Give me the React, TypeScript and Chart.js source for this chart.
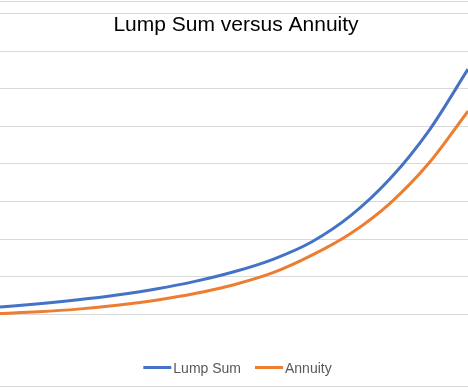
import React, { useEffect, useRef } from "react";
import { Chart, registerables } from "chart.js";

Chart.register(...registerables);

const chartTitle = "Lump Sum versus Annuity";
const periods = ["1", "2", "3", "4", "5", "6", "7", "8", "9", "10", "11", "12", "13"];
const lumpSum = [0.187, 0.273, 0.378, 0.507, 0.667, 0.87, 1.127, 1.459, 1.927, 2.629, 3.604, 4.891, 6.529];
const annuity = [0.013, 0.06, 0.13, 0.231, 0.368, 0.547, 0.781, 1.101, 1.569, 2.154, 2.953, 4.026, 5.41];
const gridValues = [-1.92, 0, 1, 2, 3, 4, 5, 6, 7, 8, 8.333];
const yMin = -2.0533;
const yMax = 8.3733;

const FONT = "'Liberation Sans', Arial, sans-serif";

const overlayPlugin = {
  id: "overlayTitleLegend",
  afterDraw(chart: any) {
    const ctx = chart.ctx as CanvasRenderingContext2D;
    const w = chart.width;
    ctx.save();
    // Title
    ctx.font = `21px ${FONT}`;
    ctx.fillStyle = "#000000";
    ctx.textAlign = "center";
    ctx.textBaseline = "alphabetic";
    ctx.fillText(chartTitle, w / 2 + 2, 30.5);
    // Legend
    ctx.font = `14px ${FONT}`;
    ctx.textAlign = "left";
    const sampleW = 28;
    const gapText = 2;
    const gapItem = 14;
    const items = chart.data.datasets.map((d: any) => ({
      label: d.label,
      color: d.borderColor,
      tw: ctx.measureText(d.label).width,
    }));
    let total = 0;
    items.forEach((it: any, i: number) => {
      total += sampleW + gapText + it.tw + (i < items.length - 1 ? gapItem : 0);
    });
    let x = w / 2 + 3.5 - total / 2;
    const lineY = 367.5;
    items.forEach((it: any) => {
      ctx.strokeStyle = it.color;
      ctx.lineWidth = 3;
      ctx.lineCap = "butt";
      ctx.beginPath();
      ctx.moveTo(x, lineY);
      ctx.lineTo(x + sampleW, lineY);
      ctx.stroke();
      x += sampleW + gapText;
      ctx.fillStyle = "#595959";
      ctx.fillText(it.label, x, 372.5);
      x += it.tw + gapItem;
    });
    ctx.restore();
  },
};

export default function App() {
  const canvasRef = useRef<HTMLCanvasElement | null>(null);

  useEffect(() => {
    document.body.style.margin = "0";
    const canvas = canvasRef.current;
    if (!canvas) return;
    const chart = new Chart(canvas, {
      type: "line",
      data: {
        labels: periods,
        datasets: [
          {
            label: "Lump Sum",
            data: lumpSum,
            borderColor: "#4472C4",
            backgroundColor: "#4472C4",
            borderWidth: 3,
            pointRadius: 0,
            cubicInterpolationMode: "monotone",
          },
          {
            label: "Annuity",
            data: annuity,
            borderColor: "#ED7D31",
            backgroundColor: "#ED7D31",
            borderWidth: 3,
            pointRadius: 0,
            cubicInterpolationMode: "monotone",
          },
        ],
      },
      options: {
        animation: false,
        responsive: true,
        maintainAspectRatio: false,
        layout: { padding: 0 },
        plugins: {
          legend: { display: false },
          title: { display: false },
          tooltip: { enabled: false },
        },
        scales: {
          x: {
            display: false,
            offset: false,
          },
          y: {
            display: true,
            min: yMin,
            max: yMax,
            afterBuildTicks: (scale: any) => {
              scale.ticks = gridValues.map((v) => ({ value: v }));
            },
            ticks: { display: false, padding: 0 },
            border: { display: false },
            grid: { color: "#D9D9D9", lineWidth: 1, drawTicks: false, tickLength: 0 },
          },
        },
      },
      plugins: [overlayPlugin],
    });
    return () => chart.destroy();
  }, []);

  return (
    <div style={{ width: 468, height: 391, position: "relative", background: "#ffffff" }}>
      <canvas ref={canvasRef} />
    </div>
  );
}
